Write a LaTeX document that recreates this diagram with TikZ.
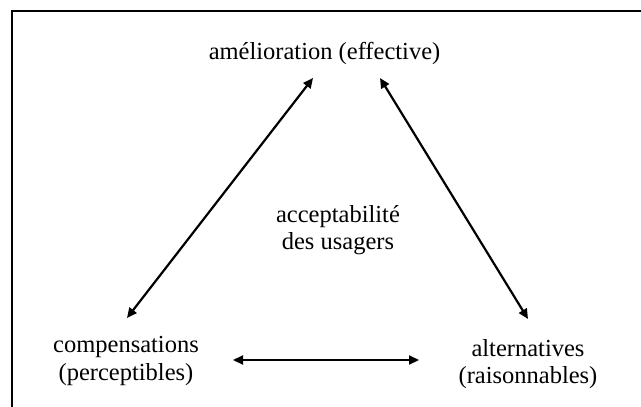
\documentclass[tikz,border=0pt]{standalone}
\usepackage{fontspec}
\setmainfont{Liberation Serif}
\usetikzlibrary{arrows.meta,calc}
\begin{document}
\begin{tikzpicture}[x=1pt,y=1pt,
  lbl/.style={font=\fontsize{24.5}{27.5}\selectfont, align=center, inner sep=0pt},
  conn/.style={line width=2.2pt, {Triangle[length=10pt,width=9pt]}-{Triangle[length=10pt,width=9pt]}},
  frame/.style={line width=2pt}]
\useasboundingbox (0,0) rectangle (641,-407);
\draw[frame] (12,-407) -- (12,-11) -- (641,-11);
\node[lbl] (top) at (324.5,-53) {amélioration (effective)};
\node[lbl] (center) at (338,-230) {acceptabilité\\des usagers};
\node[lbl] (left) at (126,-361) {compensations\\(perceptibles)};
\node[lbl] (right) at (528,-364) {alternatives\\(raisonnables)};
\coordinate (tl) at (313,-78);
\coordinate (tr) at (380,-78);
\coordinate (lt) at (127,-318);
\coordinate (rt) at (528,-319);
\coordinate (lr) at (233,-360);
\coordinate (rl) at (419,-360);
\draw[conn] (lt) -- (tl);
\draw[conn] (tr) -- (rt);
\draw[conn] (lr) -- (rl);
\end{tikzpicture}
\end{document}
